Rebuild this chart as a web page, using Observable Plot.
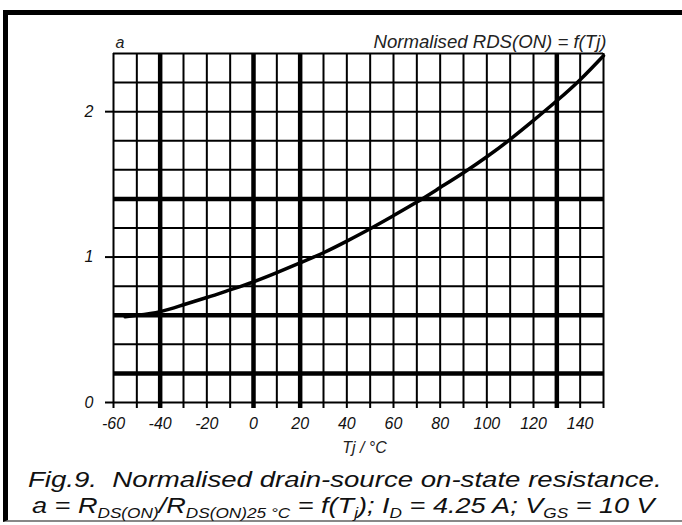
<!DOCTYPE html>
<html><head><meta charset="utf-8">
<script src="https://cdn.jsdelivr.net/npm/d3@7"></script>
<script src="https://cdn.jsdelivr.net/npm/@observablehq/plot@0.6"></script>
<style>
html,body{margin:0;padding:0;background:#fff;}
#wrap{position:relative;width:682px;height:525px;overflow:hidden;background:#fff;}
#frame{position:absolute;left:3px;top:10px;width:700px;height:505px;border-left:5px solid #000;border-top:5px solid #000;border-bottom:2px solid #888;}
#chart{position:absolute;left:0;top:0;}
#cap{position:absolute;left:0;top:0;font-family:"Liberation Sans",Arial,sans-serif;font-style:italic;}
</style></head><body>
<div id="wrap"><div id="frame"></div><div id="chart"></div><svg id="cap" width="682" height="525"></svg></div>
<script>
// Junction temperature Tj (°C) and normalised RDS(ON) a
const tj = [-55, -50, -40, -30, -20, -10, 0, 10, 20, 30, 40, 50, 60, 70, 80, 90, 100, 110, 120, 130, 140, 150];
const aVal = [0.59, 0.60, 0.625, 0.672, 0.722, 0.775, 0.83, 0.893, 0.96, 1.03, 1.11, 1.195, 1.285, 1.378, 1.478, 1.58, 1.69, 1.81, 1.94, 2.075, 2.22, 2.385];

// grid / ticks
const xGrid = [-60, -50, -40, -30, -20, -10, 0, 10, 20, 30, 40, 50, 60, 70, 80, 90, 100, 110, 120, 130, 140, 150];
const xLabels = [-60, -40, -20, 0, 20, 40, 60, 80, 100, 120, 140];
const yGrid = [0, 0.2, 0.4, 0.6, 0.8, 1.0, 1.2, 1.4, 1.6, 1.8, 2.0, 2.2, 2.4];
const yLabels = [0, 1, 2];
const thickX = [-40, 0, 20, 130];
const thickY = [0.2, 0.6, 1.4];

const data = tj.map((t, i) => ({t, a: aVal[i]}));

const font = '"Liberation Sans", Arial, sans-serif';
const chart = Plot.plot({
  width: 682, height: 525,
  marginLeft: 113, marginRight: 79, marginTop: 53, marginBottom: 123,
  x: {domain: [-60, 150]},
  y: {domain: [0, 2.4]},
  style: {fontFamily: font, fontSize: "16px", fontStyle: "italic", color: "#111", background: "transparent", overflow: "visible"},
  marks: [
    Plot.ruleX(xGrid, {stroke: "#000", strokeWidth: 2}),
    Plot.ruleY(yGrid, {stroke: "#000", strokeWidth: 2}),
    Plot.ruleX(thickX, {stroke: "#000", strokeWidth: 4.5}),
    Plot.ruleY(thickY, {stroke: "#000", strokeWidth: 4.5}),
    Plot.axisX({ticks: xGrid, tickSize: 6, tickPadding: 9, strokeWidth: 2, stroke: "#000",
      tickFormat: d => xLabels.includes(d) ? String(d) : "", label: null}),
    Plot.axisX({ticks: thickX, tickSize: 6, strokeWidth: 4.5, stroke: "#000", tickFormat: () => "", label: null}),
    Plot.axisY({ticks: yLabels, tickSize: 8, tickPadding: 12, strokeWidth: 2, stroke: "#000",
      tickFormat: d => String(d), label: null}),
    Plot.line(data, {x: "t", y: "a", curve: "natural", stroke: "#000", strokeWidth: 3.5}),
    Plot.text(["a"], {text: d => d, frameAnchor: "top-left", textAnchor: "start", lineAnchor: "bottom", dx: 2, dy: -6, fill: "#222"}),
    Plot.text(["Normalised RDS(ON) = f(Tj)"], {text: d => d, frameAnchor: "top-right", textAnchor: "end", lineAnchor: "bottom", dx: 3, dy: -6, fill: "#222", fontSize: 18.6}),
    Plot.text(["Tj / °C"], {text: d => d, frameAnchor: "bottom", textAnchor: "middle", lineAnchor: "bottom", dx: 6, dy: 50, fill: "#222"})
  ]
});
document.getElementById("chart").appendChild(chart);

// caption
const cap = d3.select("#cap");
function fitLine(sel, x0, x1, y) {
  const w = sel.node().getBBox().width;
  const sx = (x1 - x0) / w;
  sel.attr("transform", `translate(${x0},${y}) scale(${sx},1)`);
}
const l1 = cap.append("text").attr("font-size", 22).attr("fill", "#111")
  .text("Fig.9.  Normalised drain-source on-state resistance.");
l1.style("white-space", "pre");
fitLine(l1, 28, 662, 487);

const l2 = cap.append("text").attr("font-size", 22).attr("fill", "#111");
const parts = [
  ["a = R", 0], ["DS(ON)", 1], ["/R", 0], ["DS(ON)25 °C", 1], [" = f(T", 0], ["j", 1],
  ["); I", 0], ["D", 1], [" = 4.25 A; V", 0], ["GS", 1], [" = 10 V", 0]
];
let sub = 0;
for (const [txt, s] of parts) {
  const ts = l2.append("tspan").text(txt).style("white-space", "pre");
  if (s) ts.attr("font-size", 14).attr("dy", sub ? 0 : 5);
  else ts.attr("dy", sub ? -5 : 0);
  sub = s;
}
fitLine(l2, 32, 658, 513);
</script>
</body></html>
